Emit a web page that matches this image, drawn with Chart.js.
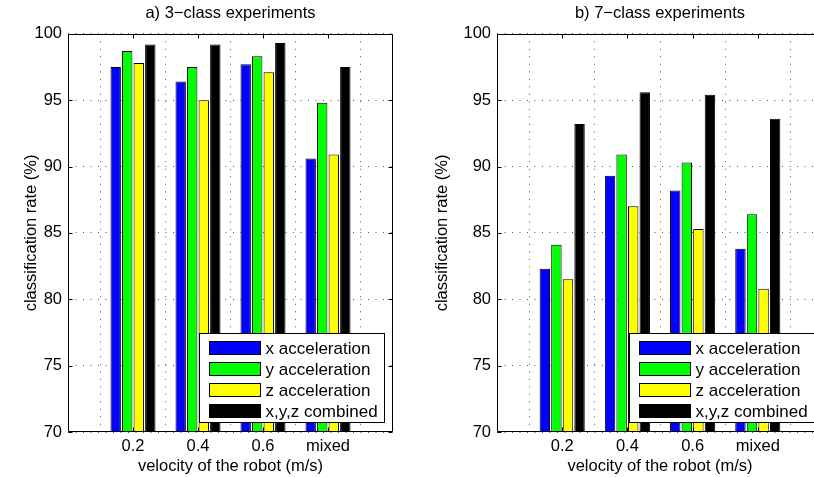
<!DOCTYPE html>
<html>
<head>
<meta charset="utf-8">
<script src="https://cdn.jsdelivr.net/npm/chart.js@4.4.1/dist/chart.umd.min.js"></script>
<style>
  html, body { margin: 0; padding: 0; background: #fff; overflow: hidden; width: 814px; height: 477px; }
  #wrapA { position: absolute; left: 0; top: 0; width: 407px; height: 477px; }
  #wrapB { position: absolute; left: 407px; top: 0; width: 423px; height: 477px; }
</style>
</head>
<body>
<div id="wrapA"><canvas id="chartA" width="407" height="477"></canvas></div>
<div id="wrapB"><canvas id="chartB" width="423" height="477"></canvas></div>
<script>
// ---- data ----
const categories = ['0.2', '0.4', '0.6', 'mixed'];
const seriesNames = ['x acceleration', 'y acceleration', 'z acceleration', 'x,y,z combined'];
const seriesColors = ['#0000ff', '#00ff00', '#ffff00', '#000000'];

// a) 3-class experiments
const threeClassX = [97.5, 96.4, 97.7, 90.6];
const threeClassY = [98.7, 97.5, 98.3, 94.8];
const threeClassZ = [97.8, 95.0, 97.1, 90.9];
const threeClassXYZ = [99.2, 99.2, 99.3, 97.5];

// b) 7-class experiments
const sevenClassX = [82.3, 89.3, 88.2, 83.8];
const sevenClassY = [84.1, 90.9, 90.3, 86.4];
const sevenClassZ = [81.5, 87.0, 85.3, 80.8];
const sevenClassXYZ = [93.2, 95.6, 95.4, 93.6];

const yTicks = [70, 75, 80, 85, 90, 95, 100];

const FONT = '"Liberation Sans", Arial, Helvetica, sans-serif';
const FS = 16.5;

// pad categories so that they sit at positions 1..4 of a 0..5 axis
const paddedLabels = [''].concat(categories, ['']);
const pad = arr => [null].concat(arr, [null]);

// frame, inward ticks and legend box drawn inside the plot area
const framePlugin = {
  id: 'framePlugin',
  afterDraw(chart) {
    const ctx = chart.ctx;
    const a = chart.chartArea;
    const xs = chart.scales.x, ys = chart.scales.y;
    ctx.save();
    ctx.strokeStyle = '#000';
    ctx.lineWidth = 1;
    const L = Math.round(a.left) + 0.5, R = Math.round(a.right) - 0.5;
    const T = Math.round(a.top) + 0.5, B = Math.round(a.bottom) - 0.5;
    ctx.beginPath();
    ctx.rect(L, T, R - L, B - T);
    ctx.stroke();
    const tl = 4;
    ctx.beginPath();
    yTicks.forEach(v => {
      const y = Math.round(ys.getPixelForValue(v)) + 0.5;
      ctx.moveTo(L, y); ctx.lineTo(L + tl, y);
      ctx.moveTo(R, y); ctx.lineTo(R - tl, y);
    });
    for (let i = 1; i <= categories.length; i++) {
      const x = Math.round(xs.getPixelForValue(i)) + 0.5;
      ctx.moveTo(x, T); ctx.lineTo(x, T + tl);
      ctx.moveTo(x, B); ctx.lineTo(x, B - tl);
    }
    ctx.stroke();

    // legend
    const bw = 185, bh = 89;
    const bx = Math.round(a.right - 9 - bw) + 0.5;
    const by = Math.round(a.bottom - 10 - bh) + 0.5;
    ctx.fillStyle = '#fff';
    ctx.fillRect(bx, by, bw, bh);
    ctx.strokeStyle = '#000';
    ctx.strokeRect(bx, by, bw, bh);
    ctx.font = '17px ' + FONT;
    ctx.textBaseline = 'middle';
    ctx.textAlign = 'left';
    chart.data.datasets.forEach((ds, i) => {
      const cy = by + 14.5 + i * 21;
      ctx.fillStyle = ds.backgroundColor;
      ctx.fillRect(bx + 10, Math.round(cy - 7), 51, 13);
      ctx.strokeStyle = '#000';
      ctx.strokeRect(bx + 10, Math.round(cy - 7) + 0.5, 51, 13);
      ctx.fillStyle = '#000';
      ctx.fillText(ds.label, bx + 66, cy + 1);
    });
    ctx.restore();
  }
};

function makeChart(canvasId, title, values, yAxisWidth, yTitlePad, rightPad) {
  const datasets = values.map((v, i) => ({
    label: seriesNames[i],
    data: pad(v),
    backgroundColor: seriesColors[i],
    borderColor: '#000',
    borderWidth: 1,
    categoryPercentage: 0.71,
    barPercentage: 0.9
  }));
  return new Chart(document.getElementById(canvasId), {
    type: 'bar',
    data: { labels: paddedLabels, datasets },
    options: {
      responsive: false,
      animation: false,
      devicePixelRatio: 1,
      layout: { padding: { left: 0, right: rightPad, top: 0, bottom: 0 } },
      plugins: {
        legend: { display: false },
        tooltip: { enabled: false },
        title: {
          display: true,
          text: title,
          fullSize: false,
          color: '#000',
          font: { family: FONT, size: FS, weight: 'normal' },
          padding: { top: 4, bottom: 10 }
        }
      },
      scales: {
        x: {
          type: 'category',
          offset: false,
          grid: { display: true, color: '#555', lineWidth: 1, drawTicks: false },
          border: { display: false, dash: [1, 6.5] },
          ticks: {
            color: '#000', padding: 5, maxRotation: 0, autoSkip: false,
            font: { family: FONT, size: FS }
          },
          title: {
            display: true, text: 'velocity of the robot (m/s)', color: '#000',
            font: { family: FONT, size: FS }, padding: { top: 0, bottom: 1 }
          },
          afterFit: s => { s.height = 45; }
        },
        y: {
          min: 70, max: 100,
          grid: { display: true, color: '#555', lineWidth: 1, drawTicks: false },
          border: { display: false, dash: [1, 6.5] },
          ticks: {
            stepSize: 5, color: '#000', padding: 6,
            font: { family: FONT, size: FS }
          },
          title: {
            display: true, text: 'classification rate (%)', color: '#000',
            font: { family: FONT, size: FS }, padding: { top: yTitlePad, bottom: 0 }
          },
          afterFit: s => { s.width = yAxisWidth; }
        }
      }
    },
    plugins: [framePlugin]
  });
}

makeChart('chartA', 'a) 3\u2212class experiments',
  [threeClassX, threeClassY, threeClassZ, threeClassXYZ], 68, 22, 14);
makeChart('chartB', 'b) 7\u2212class experiments',
  [sevenClassX, sevenClassY, sevenClassZ, sevenClassXYZ], 90, 26, 7);
</script>
</body>
</html>
